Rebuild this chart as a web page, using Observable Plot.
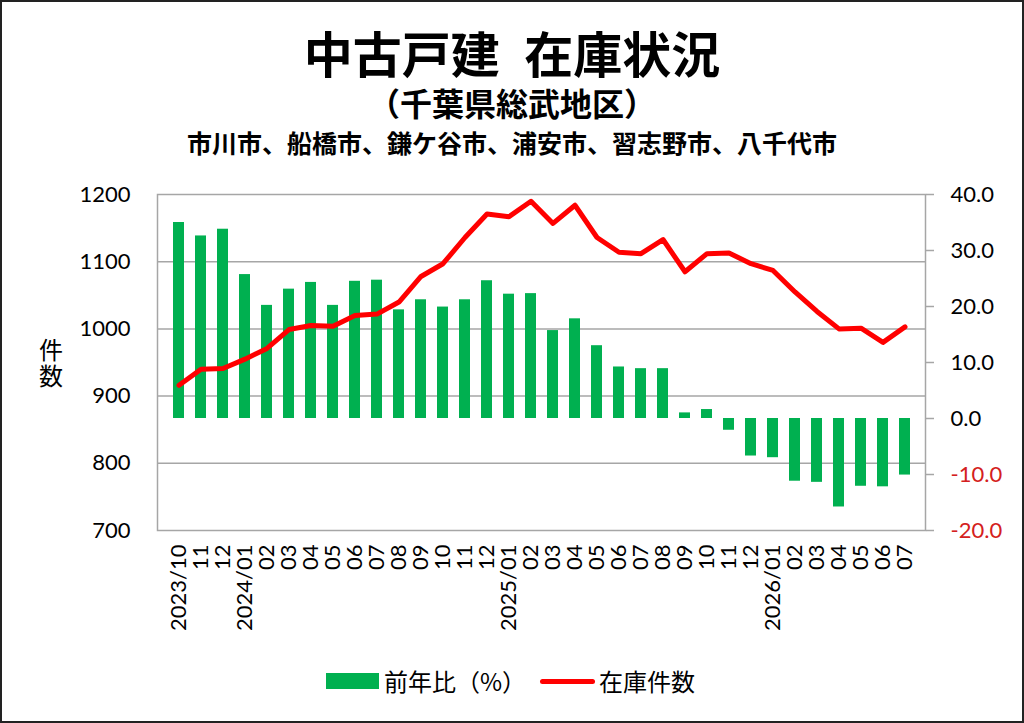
<!DOCTYPE html>
<html>
<head>
<meta charset="utf-8">
<script src="https://cdn.jsdelivr.net/npm/d3@7"></script>
<script src="https://cdn.jsdelivr.net/npm/@observablehq/plot@0.6"></script>
<style>
  html, body { margin: 0; padding: 0; background: #fff; }
  #wrap { position: relative; width: 1024px; height: 723px; overflow: hidden; background: #fff;
          font-family: "Noto Sans CJK JP", "Noto Sans", sans-serif; color: #000; }
  #border { position: absolute; left: 0; top: 0; width: 1024px; height: 723px; box-sizing: border-box;
            border: 2px solid #222; pointer-events: none; }
  .t { position: absolute; left: 0; width: 1024px; text-align: center; white-space: nowrap; }
  #title { top: 26px; line-height: 52px; font-size: 49px; font-weight: 700; }
  #sub { top: 85px; line-height: 34px; font-size: 32px; font-weight: 700; }
  #sub2 { top: 128px; line-height: 28px; font-size: 25px; font-weight: 700; }
  .yl { position: absolute; left: 39px; font-size: 24px; line-height: 24px; }
  #chart { position: absolute; left: 0; top: 170px; }
  .lg { position: absolute; font-size: 24px; line-height: 30px; white-space: nowrap; }
</style>
</head>
<body>
<div id="wrap">
  <div class="t" id="title">中古戸建&ensp;在庫状況</div>
  <div class="t" id="sub">（千葉県総武地区）</div>
  <div class="t" id="sub2">市川市、船橋市、鎌ケ谷市、浦安市、習志野市、八千代市</div>
  <div class="yl" style="top:337px;">件</div>
  <div class="yl" style="top:363px;">数</div>
  <div id="chart"></div>
  <div style="position:absolute;left:326px;top:673px;width:53px;height:16px;background:#00B050;"></div>
  <div class="lg" style="left:384px;top:666px;">前年比（%）</div>
  <div style="position:absolute;left:540px;top:678.5px;width:55px;height:5px;background:#FF0000;border-radius:3px;"></div>
  <div class="lg" style="left:599px;top:666px;">在庫件数</div>
  <div id="border"></div>
</div>
<script>
const months = ["2023/10","2023/11","2023/12",
  "2024/01","2024/02","2024/03","2024/04","2024/05","2024/06","2024/07","2024/08","2024/09","2024/10","2024/11","2024/12",
  "2025/01","2025/02","2025/03","2025/04","2025/05","2025/06","2025/07","2025/08","2025/09","2025/10","2025/11","2025/12",
  "2026/01","2026/02","2026/03","2026/04","2026/05","2026/06","2026/07"];
const tickLabels = ["2023/10","11","12",
  "2024/01","02","03","04","05","06","07","08","09","10","11","12",
  "2025/01","02","03","04","05","06","07","08","09","10","11","12",
  "2026/01","02","03","04","05","06","07"];
// 前年比（%） — right axis
const yoy = [35.0, 32.6, 33.8, 25.7, 20.2, 23.1, 24.3, 20.2, 24.5, 24.7, 19.4, 21.2, 19.9, 21.2, 24.6,
  22.2, 22.3, 15.7, 17.8, 13.0, 9.2, 8.9, 8.9, 1.0, 1.6, -2.1, -6.7,
  -7.0, -11.2, -11.4, -15.8, -12.1, -12.2, -10.1];
// 在庫件数 — left axis
const stock = [916, 940, 941, 955, 971, 999, 1005, 1004, 1020, 1022, 1040, 1078, 1097, 1136, 1171,
  1167, 1190, 1157, 1184, 1136, 1114, 1112, 1133, 1085, 1112, 1113, 1097,
  1087, 1055, 1026, 1000, 1001, 980, 1003];
const leftTicks = [700, 800, 900, 1000, 1100, 1200];
const gridTicks = [800, 900, 1000, 1100];
const rightTicks = [-20, -10, 0, 10, 20, 30, 40];

const leftMin = 700, leftMax = 1200, rightMin = -20, rightMax = 40;
const toLeft = p => leftMin + (p - rightMin) / (rightMax - rightMin) * (leftMax - leftMin);
const toRight = c => (c - leftMin) / (leftMax - leftMin) * (rightMax - rightMin) + rightMin;
const fmtRight = d => (Math.round(toRight(d) * 10) / 10).toFixed(1);

const data = months.map((m, i) => ({month: m, yoy: yoy[i], stock: stock[i]}));
const labelOf = new Map(months.map((m, i) => [m, tickLabels[i]]));

const chart = Plot.plot({
  width: 1024,
  height: 480,
  marginTop: 24,
  marginBottom: 120,
  marginLeft: 157,
  marginRight: 99,
  style: {fontFamily: "Lato, 'Noto Sans', 'Noto Sans CJK JP', sans-serif", fontSize: "22px", color: "#000", background: "transparent"},
  x: {domain: months, paddingInner: 0.52, paddingOuter: 0.26, axis: null, label: null},
  y: {domain: [leftMin, leftMax], axis: null, label: null},
  marks: [
    Plot.gridY(gridTicks, {stroke: "#a6a6a6", strokeOpacity: 1, strokeWidth: 1.5}),
    Plot.barY(data, {x: "month", y1: () => toLeft(0), y2: d => toLeft(d.yoy), fill: "#00B050"}),
    Plot.line(data, {x: "month", y: "stock", stroke: "#FF0000", strokeWidth: 5, strokeLinejoin: "round", strokeLinecap: "round"}),
    Plot.frame({stroke: "#a6a6a6", strokeWidth: 1.5}),
    Plot.axisY(leftTicks, {anchor: "left", tickSize: 0, tickPadding: 27, fontSize: 22, fill: "#000",
      label: null, tickFormat: d => String(d)}),
    Plot.axisY(rightTicks.filter(v => v >= 0).map(toLeft), {anchor: "right", tickSize: 8, tickPadding: 17, fontSize: 22,
      stroke: "#a6a6a6", strokeWidth: 1.5, fill: "#000", label: null, tickFormat: fmtRight}),
    Plot.axisY(rightTicks.filter(v => v < 0).map(toLeft), {anchor: "right", tickSize: 8, tickPadding: 17, fontSize: 22,
      stroke: "#a6a6a6", strokeWidth: 1.5, fill: "#d42020", label: null, tickFormat: fmtRight}),
    Plot.axisX({anchor: "bottom", tickRotate: -90, tickSize: 0, tickPadding: 14, fontSize: 22, fill: "#000",
      label: null, tickFormat: d => labelOf.get(d)})
  ]
});
document.getElementById("chart").appendChild(chart);
</script>
</body>
</html>
